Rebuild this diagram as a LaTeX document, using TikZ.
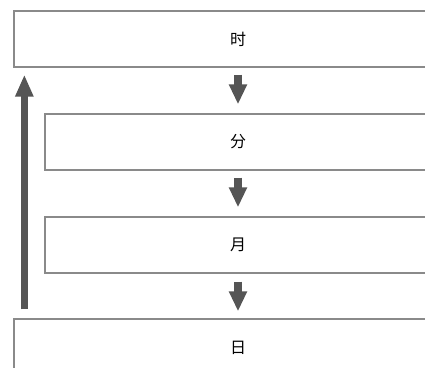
\documentclass[tikz,border=0pt]{standalone}
\usepackage{fontspec}
\usepackage{tikz}
\usetikzlibrary{arrows.meta}
\newfontfamily\cjk{Noto Sans CJK SC}

\begin{document}
\begin{tikzpicture}[x=1pt, y=-1pt,
  unitbox/.style={draw=lineGray, line width=1.3pt, fill=white, inner sep=0pt,
    minimum height=56pt, font=\cjk\fontsize{16}{18}\selectfont},
  downarrow/.style={draw=arrGray, line width=8pt,
    -{Triangle[width=17pt, length=20pt]}}
]

% Colori
\definecolor{lineGray}{HTML}{8A8A8A}
\definecolor{arrGray}{HTML}{555555}

% Area della figura
\useasboundingbox (0,0) rectangle (425,367);
\clip (0,0) rectangle (425,367);

% Riquadri
\node[unitbox, minimum width=448pt] (hour)  at (238,39)  {时};
\node[unitbox, minimum width=386pt] (min)   at (238,142) {分};
\node[unitbox, minimum width=386pt] (month) at (238,245) {月};
\node[unitbox, minimum width=448pt, minimum height=58pt] (day) at (238,348) {日};

% Frecce verso il basso
\draw[downarrow, shorten <=7pt, shorten >=9pt] (hour.south) -- (min.north);
\draw[downarrow, shorten <=7pt, shorten >=9pt] (min.south) -- (month.north);
\draw[downarrow, shorten <=8pt, shorten >=7pt] (month.south) -- (day.north);

% Freccia di ritorno (sinistra)
\draw[downarrow, line width=7.5pt, -{Triangle[width=17pt, length=22pt]},
  shorten <=9pt, shorten >=7pt]
  ([xshift=11pt]day.north west) -- ([xshift=11pt]hour.south west);

\end{tikzpicture}
\end{document}
